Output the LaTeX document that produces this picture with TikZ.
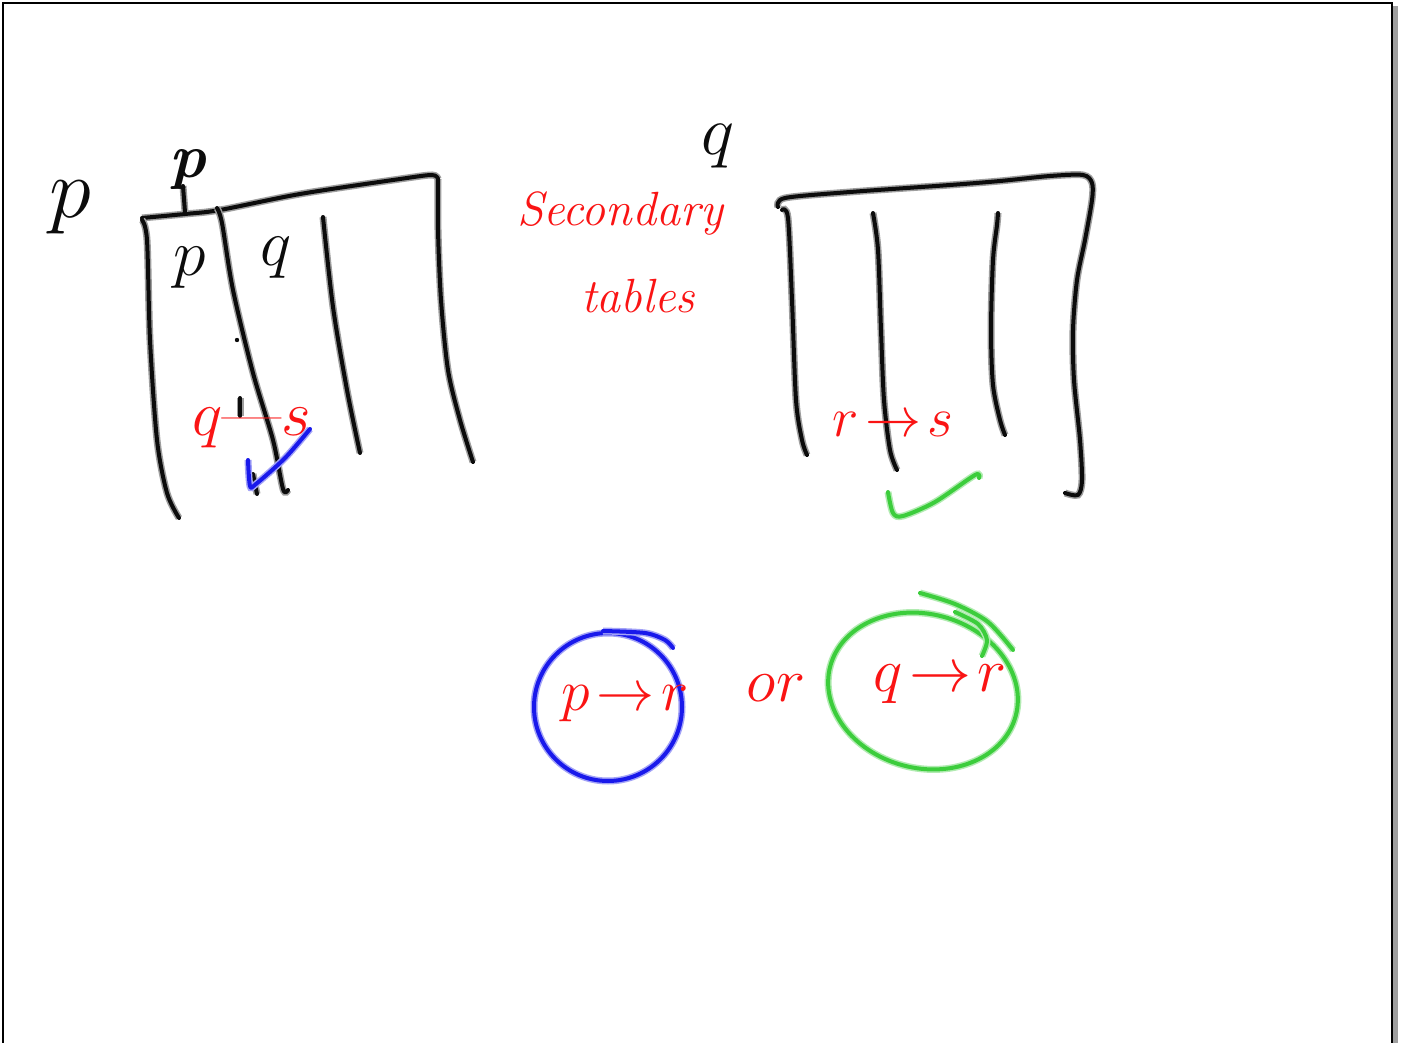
\RequirePackage{fix-cm}
\documentclass[tikz,border=0pt]{standalone}
\usepackage{tikz}
\usetikzlibrary{positioning}
\definecolor{penred}{RGB}{250,20,20}
\definecolor{penblue}{RGB}{25,25,235}
\definecolor{pengreen}{RGB}{60,205,60}
\definecolor{penblack}{RGB}{12,12,12}
\newcommand{\handsize}[1]{\fontsize{#1}{#1}\selectfont}

\begin{document}
\begin{tikzpicture}[x=1pt, y=-1pt,
    pen/.style={draw=#1, line width=4pt, line cap=round, line join=round, preaction={draw=#1!40, line width=7pt}},
    scrawl/.style={text=#1, inner sep=0pt}
  ]
  \useasboundingbox (0,0) rectangle (1401,1043);
  \fill[white] (0,0) rectangle (1401,1043);

  % page frame
  \fill[gray!75] (1393,6) rectangle (1398,1043);
  \draw[line width=2.2pt] (3,1060) -- (3,3) -- (1392,3) -- (1392,1060);

  % Table 1
  \draw[pen=penblack] plot[smooth] coordinates {(142,218) (185,214) (220,210) (300,194) (400,179) (432,175) (438,179)};
  \draw[pen=penblack] plot[smooth] coordinates {(438,179) (438,230) (441,300) (448,370) (460,420) (473,462)};
  \draw[pen=penblack] plot[smooth] coordinates {(142,220) (147,240) (150,340) (157,440) (167,493) (179,518)};
  \draw[pen=penblack] plot[smooth] coordinates {(217,208) (222,223) (233,290) (253,373) (273,440) (283,489) (288,490)};
  \draw[pen=penblack] plot[smooth] coordinates {(323,217) (333,307) (347,390) (360,453)};
  \draw[pen=penblack] (240,398) -- (240,416);
  \draw[pen=penblack] (253,474) -- (257,494);
  \draw[pen=penblack] (185,212) -- (183,186);
  \fill[penblack] (237,340) circle[radius=2.2];

  \node[scrawl=penblack] (lblP) at (70,207) {\handsize{85}$p$};
  \node[scrawl=penblack] (lblPtop) at (188,170) {\handsize{62}\bfseries\itshape p};
  \node[scrawl=penblack] (colP) at (190,268) {\handsize{66}$p$};
  \node[scrawl=penblack] (colQ) at (276,258) {\handsize{66}$q$};
  \node[scrawl=penred] (eqQS) at (252,428) {\handsize{64}$q$---$s$};
  \draw[pen=penblue] plot[smooth] coordinates {(248,460) (250,486) (256,484) (285,458) (310,429)};

  % secondary tables note
  \node[scrawl=penred] (note1) at (620,214) {\handsize{48}\itshape Secondary};
  \node[scrawl=penred] (note2) at (638,296) {\handsize{48}\itshape tables};
  \node[scrawl=penblack] (tabQ) at (718,146) {\handsize{70}$q$};

  % Table 2
  \draw[pen=penblack] plot[smooth] coordinates {(778,207) (785,198) (850,192) (950,185) (1000,181) (1050,176) (1083,175) (1092,183) (1092,200) (1085,240) (1077,280) (1073,330) (1074,380) (1080,440) (1082,480) (1078,495) (1065,493)};
  \draw[pen=penblack] plot[smooth] coordinates {(782,210) (788,218) (792,300) (796,400) (802,440) (807,455)};
  \draw[pen=penblack] plot[smooth] coordinates {(873,213) (878,250) (881,330) (884,400) (890,450) (897,470)};
  \draw[pen=penblack] plot[smooth] coordinates {(998,213) (997,225) (993,260) (991,330) (993,385) (1000,420) (1005,435)};
  \node[scrawl=penred] (eqRS) at (893,424) {\handsize{56}$r\!\to\! s$};
  \draw[pen=pengreen] plot[smooth] coordinates {(888,492) (893,513) (903,516) (935,502) (975,475) (979,478)};

  % the two choices
  \draw[pen=penblue] (608,707) circle[radius=74];
  \draw[pen=penblue] plot[smooth] coordinates {(603,631) (645,633) (665,640) (673,648)};
  \node[scrawl=penred] (optPR) at (625,704) {\handsize{58}$p\!\to\! r$};
  \node[scrawl=penred] (wordOr) at (776,688) {\handsize{62}$or$};
  \draw[pen=pengreen, rotate around={-15:(923,691)}] (923,691) ellipse[x radius=96, y radius=77];
  \draw[pen=pengreen] plot[smooth] coordinates {(920,593) (955,604) (988,622) (1013,650)};
  \draw[pen=pengreen] plot[smooth] coordinates {(955,612) (978,624) (987,640) (982,656)};
  \node[scrawl=penred] (optQR) at (940,684) {\handsize{62}$q\!\to\! r$};
\end{tikzpicture}
\end{document}
